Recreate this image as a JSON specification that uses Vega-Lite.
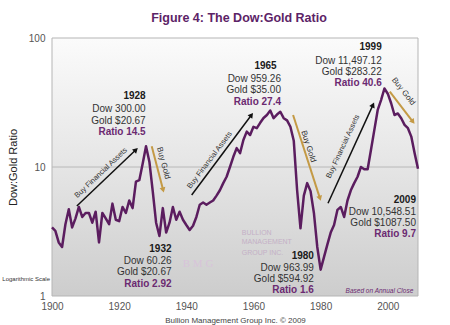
{
  "$schema": "https://vega.github.io/schema/vega-lite/v6.json",
  "width": 366,
  "height": 258,
  "autosize": {"type": "none"},
  "padding": {"left": 52, "top": 38, "right": 32, "bottom": 29},
  "background": "white",
  "config": {"view": {"stroke": null}, "font": "Liberation Sans"},
  "title": {"text": "Figure 4: The Dow:Gold Ratio", "fontSize": 12.5, "font": "Liberation Sans", "fontWeight": "bold", "color": "#5c2367", "anchor": "middle", "offset": 9, "dx": 4},
  "encoding": {
    "x": {"field": "year", "type": "quantitative", "scale": {"domain": [1900, 2009], "nice": false, "zero": false},
      "axis": {"values": [1900, 1920, 1940, 1960, 1980, 2000], "format": "d", "labelFontSize": 10, "labelColor": "#555555", "ticks": false, "domain": false, "grid": false, "labelPadding": 5, "labelFlush": false, "title": "Bullion Management Group Inc. © 2009", "titleFontSize": 8, "titleFontWeight": "normal", "titleColor": "#444444", "titlePadding": 5}},
    "y": {"field": "ratio", "type": "quantitative", "scale": {"type": "log", "domain": [1, 100], "nice": false},
      "axis": {"values": [1, 10, 100], "format": "d", "labelFontSize": 10, "labelColor": "#555555", "ticks": false, "domain": false, "grid": false, "labelPadding": 7, "labelFlush": false, "title": "Dow:Gold Ratio", "titleFontSize": 11, "titleFontWeight": "normal", "titleColor": "#222222", "titlePadding": 10}}
  },
  "layer": [
    {
      "data": {"values": [{"year": 1900, "year2": 2009, "ratio": 1, "ratio2": 100}]},
      "mark": {"type": "rect", "stroke": "#b5b5b5", "strokeWidth": 1,
        "fill": {"gradient": "linear", "x1": 0, "y1": 0, "x2": 0, "y2": 1, "stops": [{"offset": 0, "color": "#fbfbfb"}, {"offset": 0.5, "color": "#e5e5e5"}, {"offset": 1, "color": "#cdcdcd"}]}},
      "encoding": {"x2": {"field": "year2"}, "y2": {"field": "ratio2"}}
    },
    {
      "data": {"values": [{"year": 1900, "year2": 2009, "ratio": 10}]},
      "mark": {"type": "rule", "color": "#b8b8b8", "strokeWidth": 1},
      "encoding": {"x2": {"field": "year2"}}
    },
    {
      "data": {"values": [{"year": 1943.5, "ratio": 1.77, "text": "B M G"}]},
      "mark": {"type": "text", "font": "Liberation Serif", "fontSize": 11, "color": "#d8c4da", "align": "center", "baseline": "middle"},
      "encoding": {"text": {"field": "text"}}
    },
    {
      "data": {"values": [{"year": 1956.5, "ratio": 3.1, "text": "BULLION"}, {"year": 1956.5, "ratio": 2.61, "text": "MANAGEMENT"}, {"year": 1956.5, "ratio": 2.17, "text": "GROUP INC."}]},
      "mark": {"type": "text", "fontSize": 7, "color": "#c4b0c6", "align": "left", "baseline": "middle"},
      "encoding": {"text": {"field": "text"}}
    },
    {
      "data": {"values": [
        {"year": 1900, "ratio": 3.4}, {"year": 1901, "ratio": 3.2}, {"year": 1902, "ratio": 2.6}, {"year": 1903, "ratio": 2.4}, {"year": 1904, "ratio": 3.6},
        {"year": 1905, "ratio": 4.7}, {"year": 1906, "ratio": 3.4}, {"year": 1907, "ratio": 4.0}, {"year": 1908, "ratio": 4.9}, {"year": 1909, "ratio": 4.1},
        {"year": 1910, "ratio": 4.4}, {"year": 1911, "ratio": 4.4}, {"year": 1912, "ratio": 3.7}, {"year": 1913, "ratio": 4.5}, {"year": 1914, "ratio": 2.6},
        {"year": 1915, "ratio": 4.4}, {"year": 1916, "ratio": 4.0}, {"year": 1917, "ratio": 3.6}, {"year": 1918, "ratio": 5.2}, {"year": 1919, "ratio": 3.9},
        {"year": 1920, "ratio": 3.8}, {"year": 1921, "ratio": 4.9}, {"year": 1922, "ratio": 4.4}, {"year": 1923, "ratio": 5.5}, {"year": 1924, "ratio": 4.8},
        {"year": 1925, "ratio": 7.7}, {"year": 1926, "ratio": 7.9}, {"year": 1927, "ratio": 10.6}, {"year": 1928, "ratio": 14.5}, {"year": 1929, "ratio": 11.0},
        {"year": 1930, "ratio": 6.5}, {"year": 1931, "ratio": 3.7}, {"year": 1932, "ratio": 2.92}, {"year": 1933, "ratio": 4.8}, {"year": 1934, "ratio": 3.1},
        {"year": 1935, "ratio": 3.7}, {"year": 1936, "ratio": 4.9}, {"year": 1937, "ratio": 3.9}, {"year": 1938, "ratio": 4.5}, {"year": 1939, "ratio": 3.9},
        {"year": 1940, "ratio": 3.55}, {"year": 1941, "ratio": 3.25}, {"year": 1942, "ratio": 3.5}, {"year": 1943, "ratio": 4.1}, {"year": 1944, "ratio": 5.1},
        {"year": 1945, "ratio": 5.3}, {"year": 1946, "ratio": 5.1}, {"year": 1947, "ratio": 5.3}, {"year": 1948, "ratio": 5.5}, {"year": 1949, "ratio": 6.0},
        {"year": 1950, "ratio": 6.6}, {"year": 1951, "ratio": 7.5}, {"year": 1952, "ratio": 8.4}, {"year": 1953, "ratio": 10.0}, {"year": 1954, "ratio": 12.0},
        {"year": 1955, "ratio": 14.0}, {"year": 1956, "ratio": 12.8}, {"year": 1957, "ratio": 16.2}, {"year": 1958, "ratio": 18.8}, {"year": 1959, "ratio": 17.7},
        {"year": 1960, "ratio": 20.5}, {"year": 1961, "ratio": 20.0}, {"year": 1962, "ratio": 22.0}, {"year": 1963, "ratio": 24.0}, {"year": 1964, "ratio": 25.3},
        {"year": 1965, "ratio": 27.4}, {"year": 1966, "ratio": 23.9}, {"year": 1967, "ratio": 25.5}, {"year": 1968, "ratio": 26.8}, {"year": 1969, "ratio": 23.9},
        {"year": 1970, "ratio": 23.0}, {"year": 1971, "ratio": 20.5}, {"year": 1972, "ratio": 16.0}, {"year": 1973, "ratio": 6.6}, {"year": 1974, "ratio": 3.35},
        {"year": 1975, "ratio": 6.0}, {"year": 1976, "ratio": 7.5}, {"year": 1977, "ratio": 6.5}, {"year": 1978, "ratio": 4.4}, {"year": 1979, "ratio": 2.4},
        {"year": 1980, "ratio": 1.6}, {"year": 1981, "ratio": 2.0}, {"year": 1982, "ratio": 2.5}, {"year": 1983, "ratio": 3.1}, {"year": 1984, "ratio": 3.55},
        {"year": 1985, "ratio": 4.65}, {"year": 1986, "ratio": 4.9}, {"year": 1987, "ratio": 4.1}, {"year": 1988, "ratio": 5.5}, {"year": 1989, "ratio": 6.6},
        {"year": 1990, "ratio": 7.5}, {"year": 1991, "ratio": 8.4}, {"year": 1992, "ratio": 10.0}, {"year": 1993, "ratio": 9.6}, {"year": 1994, "ratio": 9.6},
        {"year": 1995, "ratio": 13.6}, {"year": 1996, "ratio": 19.4}, {"year": 1997, "ratio": 27.7}, {"year": 1998, "ratio": 33.0}, {"year": 1999, "ratio": 40.6},
        {"year": 2000, "ratio": 37.0}, {"year": 2001, "ratio": 31.2}, {"year": 2002, "ratio": 25.3}, {"year": 2003, "ratio": 26.0}, {"year": 2004, "ratio": 23.9},
        {"year": 2005, "ratio": 21.2}, {"year": 2006, "ratio": 20.0}, {"year": 2007, "ratio": 17.2}, {"year": 2008, "ratio": 12.8}, {"year": 2009, "ratio": 9.7}
      ]},
      "mark": {"type": "line", "color": "#5b1d5f", "strokeWidth": 2.5, "strokeJoin": "round"},
      "encoding": {}
    },
    {
      "data": {"values": [{"year": 1907.4, "ratio": 4.99, "year2": 1925.0, "ratio2": 13.6, "tyear": 1914.6, "tratio": 8.97, "label": "Buy Financial Assets"}]},
      "layer": [
        {"mark": {"type": "rule", "color": "#111111", "strokeWidth": 1.5}, "encoding": {"x2": {"field": "year2"}, "y2": {"field": "ratio2"}}},
        {"mark": {"type": "point", "shape": "triangle-up", "filled": true, "color": "#111111", "size": 35, "angle": 46.5, "opacity": 1}, "encoding": {"x": {"field": "year2", "type": "quantitative"}, "y": {"field": "ratio2", "type": "quantitative"}}},
        {"mark": {"type": "text", "fontSize": 7.5, "color": "#333333", "angle": -43.5, "align": "center", "baseline": "middle"}, "encoding": {"x": {"field": "tyear", "type": "quantitative"}, "y": {"field": "tratio", "type": "quantitative"}, "text": {"field": "label"}}}
      ]
    },
    {
      "data": {"values": [{"year": 1941.6, "ratio": 6.07, "year2": 1959.4, "ratio2": 25.3, "tyear": 1947.0, "tratio": 11.3, "label": "Buy Financial Assets"}]},
      "layer": [
        {"mark": {"type": "rule", "color": "#111111", "strokeWidth": 1.5}, "encoding": {"x2": {"field": "year2"}, "y2": {"field": "ratio2"}}},
        {"mark": {"type": "point", "shape": "triangle-up", "filled": true, "color": "#111111", "size": 35, "angle": 37, "opacity": 1}, "encoding": {"x": {"field": "year2", "type": "quantitative"}, "y": {"field": "ratio2", "type": "quantitative"}}},
        {"mark": {"type": "text", "fontSize": 7.5, "color": "#333333", "angle": -53, "align": "center", "baseline": "middle"}, "encoding": {"x": {"field": "tyear", "type": "quantitative"}, "y": {"field": "tratio", "type": "quantitative"}, "text": {"field": "label"}}}
      ]
    },
    {
      "data": {"values": [{"year": 1982.2, "ratio": 5.24, "year2": 1995.6, "ratio2": 30.3, "tyear": 1986.7, "tratio": 14.4, "label": "Buy Financial Assets"}]},
      "layer": [
        {"mark": {"type": "rule", "color": "#111111", "strokeWidth": 1.5}, "encoding": {"x2": {"field": "year2"}, "y2": {"field": "ratio2"}}},
        {"mark": {"type": "point", "shape": "triangle-up", "filled": true, "color": "#111111", "size": 35, "angle": 24.7, "opacity": 1}, "encoding": {"x": {"field": "year2", "type": "quantitative"}, "y": {"field": "ratio2", "type": "quantitative"}}},
        {"mark": {"type": "text", "fontSize": 7.5, "color": "#333333", "angle": -65, "align": "center", "baseline": "middle"}, "encoding": {"x": {"field": "tyear", "type": "quantitative"}, "y": {"field": "tratio", "type": "quantitative"}, "text": {"field": "label"}}}
      ]
    },
    {
      "data": {"values": [{"year": 1929.7, "ratio": 14.5, "year2": 1933.1, "ratio2": 6.64, "tyear": 1933.1, "tratio": 10.7, "label": "Buy Gold"}]},
      "layer": [
        {"mark": {"type": "rule", "color": "#c49a45", "strokeWidth": 2}, "encoding": {"x2": {"field": "year2"}, "y2": {"field": "ratio2"}}},
        {"mark": {"type": "point", "shape": "triangle-up", "filled": true, "color": "#c49a45", "size": 35, "angle": 165, "opacity": 1}, "encoding": {"x": {"field": "year2", "type": "quantitative"}, "y": {"field": "ratio2", "type": "quantitative"}}},
        {"mark": {"type": "text", "fontSize": 8, "color": "#333333", "angle": 75, "align": "center", "baseline": "middle"}, "encoding": {"x": {"field": "tyear", "type": "quantitative"}, "y": {"field": "tratio", "type": "quantitative"}, "text": {"field": "label"}}}
      ]
    },
    {
      "data": {"values": [{"year": 1971.8, "ratio": 25.3, "year2": 1979.8, "ratio2": 5.71, "tyear": 1976.3, "tratio": 14.4, "label": "Buy Gold"}]},
      "layer": [
        {"mark": {"type": "rule", "color": "#c49a45", "strokeWidth": 2}, "encoding": {"x2": {"field": "year2"}, "y2": {"field": "ratio2"}}},
        {"mark": {"type": "point", "shape": "triangle-up", "filled": true, "color": "#c49a45", "size": 35, "angle": 162, "opacity": 1}, "encoding": {"x": {"field": "year2", "type": "quantitative"}, "y": {"field": "ratio2", "type": "quantitative"}}},
        {"mark": {"type": "text", "fontSize": 8, "color": "#333333", "angle": 72, "align": "center", "baseline": "middle"}, "encoding": {"x": {"field": "tyear", "type": "quantitative"}, "y": {"field": "tratio", "type": "quantitative"}, "text": {"field": "label"}}}
      ]
    },
    {
      "data": {"values": [{"year": 2000.6, "ratio": 38.4, "year2": 2007.5, "ratio2": 22.4, "tyear": 2004.6, "tratio": 38.4, "label": "Buy Gold"}]},
      "layer": [
        {"mark": {"type": "rule", "color": "#c49a45", "strokeWidth": 2}, "encoding": {"x2": {"field": "year2"}, "y2": {"field": "ratio2"}}},
        {"mark": {"type": "point", "shape": "triangle-up", "filled": true, "color": "#c49a45", "size": 35, "angle": 142, "opacity": 1}, "encoding": {"x": {"field": "year2", "type": "quantitative"}, "y": {"field": "ratio2", "type": "quantitative"}}},
        {"mark": {"type": "text", "fontSize": 8, "color": "#333333", "angle": 52, "align": "center", "baseline": "middle"}, "encoding": {"x": {"field": "tyear", "type": "quantitative"}, "y": {"field": "tratio", "type": "quantitative"}, "text": {"field": "label"}}}
      ]
    },
    {
      "data": {"values": [
        {"year": 1927.9, "ratio": 35.5, "text": "1928"}, {"year": 1966.9, "ratio": 60.7, "text": "1965"}, {"year": 1998.2, "ratio": 85.2, "text": "1999"},
        {"year": 1935.6, "ratio": 2.30, "text": "1932"}, {"year": 1978.0, "ratio": 2.04, "text": "1980"}, {"year": 2008.4, "ratio": 5.55, "text": "2009"}
      ]},
      "mark": {"type": "text", "fontSize": 10, "fontWeight": "bold", "color": "#1a1a1a", "align": "right", "baseline": "middle"},
      "encoding": {"text": {"field": "text"}}
    },
    {
      "data": {"values": [
        {"year": 1927.9, "ratio": 28.2, "text": "Dow 300.00"}, {"year": 1927.9, "ratio": 22.7, "text": "Gold $20.67"},
        {"year": 1968.2, "ratio": 48.1, "text": "Dow 959.26"}, {"year": 1968.2, "ratio": 39.5, "text": "Gold $35.00"},
        {"year": 1998.2, "ratio": 66.7, "text": "Dow 11,497.12"}, {"year": 1998.2, "ratio": 54.2, "text": "Gold $283.22"},
        {"year": 1935.6, "ratio": 1.88, "text": "Dow 60.26"}, {"year": 1935.6, "ratio": 1.54, "text": "Gold $20.67"},
        {"year": 1978.0, "ratio": 1.66, "text": "Dow 963.99"}, {"year": 1978.0, "ratio": 1.355, "text": "Gold $594.92"},
        {"year": 2008.4, "ratio": 4.46, "text": "Dow 10,548.51"}, {"year": 2008.4, "ratio": 3.70, "text": "Gold $1087.50"}
      ]},
      "mark": {"type": "text", "fontSize": 10, "color": "#333333", "align": "right", "baseline": "middle"},
      "encoding": {"text": {"field": "text"}}
    },
    {
      "data": {"values": [
        {"year": 1927.9, "ratio": 18.7, "text": "Ratio 14.5"}, {"year": 1968.2, "ratio": 31.9, "text": "Ratio 27.4"}, {"year": 1998.2, "ratio": 44.6, "text": "Ratio 40.6"},
        {"year": 1935.6, "ratio": 1.245, "text": "Ratio 2.92"}, {"year": 1978.0, "ratio": 1.11, "text": "Ratio 1.6"}, {"year": 2008.4, "ratio": 3.03, "text": "Ratio 9.7"}
      ]},
      "mark": {"type": "text", "fontSize": 10, "fontWeight": "bold", "color": "#6b2a71", "align": "right", "baseline": "middle"},
      "encoding": {"text": {"field": "text"}}
    },
    {
      "data": {"values": [{"year": 2007.6, "ratio": 1.1, "text": "Based on Annual Close"}]},
      "mark": {"type": "text", "fontSize": 6.5, "fontStyle": "italic", "color": "#6b2a71", "align": "right", "baseline": "middle"},
      "encoding": {"text": {"field": "text"}}
    },
    {
      "data": {"values": [{"year": 1892.3, "ratio": 1.355, "text": "Logarithmic Scale"}]},
      "mark": {"type": "text", "fontSize": 6, "color": "#333333", "align": "center", "baseline": "middle"},
      "encoding": {"text": {"field": "text"}}
    }
  ]
}
